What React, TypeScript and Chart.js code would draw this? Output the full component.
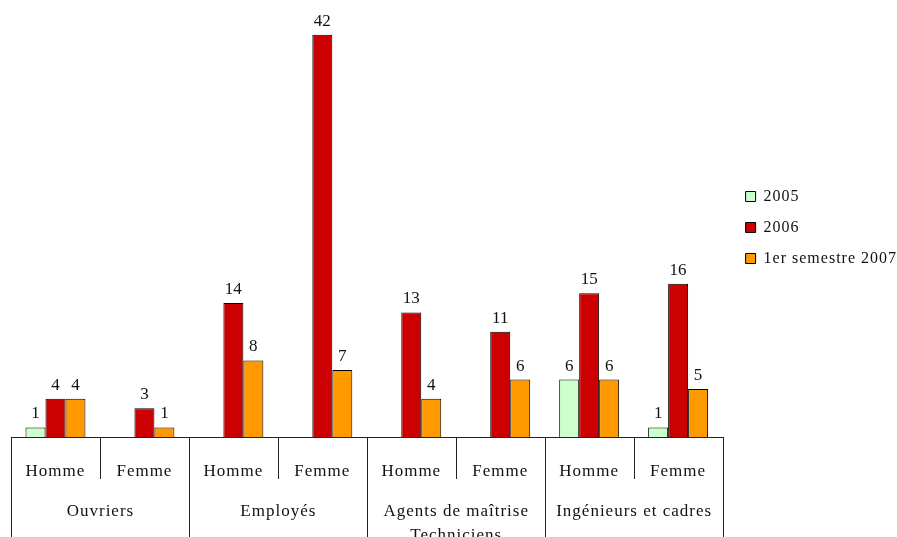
import { useEffect, useRef } from 'react';
import { Chart, registerables } from 'chart.js';

Chart.register(...registerables);

const subLabels = ['Homme', 'Femme', 'Homme', 'Femme', 'Homme', 'Femme', 'Homme', 'Femme'];
const groupLabels: string[][] = [
  ['Ouvriers'],
  ['Employés'],
  ['Agents de maîtrise', 'Techniciens'],
  ['Ingénieurs et cadres'],
];
const seriesNames = ['2005', '2006', '1er semestre 2007'];
const values2005: (number | null)[] = [1, null, null, null, null, null, 6, 1];
const values2006: (number | null)[] = [4, 3, 14, 42, 13, 11, 15, 16];
const values2007: (number | null)[] = [4, 1, 8, 7, 4, 6, 6, 5];
const seriesColors = ['#CCFFCC', '#CC0000', '#FF9900'];

const SERIF = '"Liberation Serif", "Times New Roman", serif';

// Value labels above bars, category separators and the outer group row.
const annotatePlugin = {
  id: 'annotate',
  afterLayout(chart: any) {
    const lg = chart.legend;
    if (!lg) return;
    // nudge the legend column a little away from the plot
    lg.left = chart.chartArea.right + 8;
    lg.right = chart.width;
    lg.top += 6;
    lg.bottom += 6;
  },
  beforeDraw(chart: any) {
    chart.ctx.letterSpacing = '1px';
  },
  afterDatasetsDraw(chart: any) {
    const ctx = chart.ctx;
    ctx.save();
    ctx.letterSpacing = '0px';
    ctx.font = `17px ${SERIF}`;
    ctx.fillStyle = '#111';
    ctx.textAlign = 'center';
    ctx.textBaseline = 'alphabetic';
    chart.data.datasets.forEach((ds: any, di: number) => {
      const meta = chart.getDatasetMeta(di);
      meta.data.forEach((bar: any, i: number) => {
        const v = ds.data[i];
        if (v === null || v === undefined) return;
        ctx.fillText(String(v), bar.x, bar.y - 9);
      });
    });
    ctx.restore();
  },
  afterDraw(chart: any) {
    const ctx = chart.ctx;
    const xs = chart.scales.x;
    const area = chart.chartArea;
    const step = xs.getPixelForValue(1) - xs.getPixelForValue(0);
    ctx.save();
    ctx.strokeStyle = '#222';
    ctx.lineWidth = 1;
    for (let i = 0; i <= subLabels.length; i++) {
      const px = Math.round(xs.getPixelForValue(i) - step / 2) + 0.5;
      const bottom = i % 2 === 0 ? chart.height : area.bottom + 42;
      ctx.beginPath();
      ctx.moveTo(px, area.bottom);
      ctx.lineTo(px, bottom);
      ctx.stroke();
    }
    ctx.letterSpacing = '1px';
    ctx.font = `17px ${SERIF}`;
    ctx.fillStyle = '#111';
    ctx.textAlign = 'center';
    ctx.textBaseline = 'middle';
    groupLabels.forEach((lines, g) => {
      const cx = (xs.getPixelForValue(2 * g) + xs.getPixelForValue(2 * g + 1)) / 2;
      lines.forEach((line, li) => {
        ctx.fillText(line, cx + 0.5, area.bottom + 75 + li * 24);
      });
    });
    ctx.restore();
  },
};

export default function App() {
  const canvasRef = useRef<HTMLCanvasElement | null>(null);

  useEffect(() => {
    const canvas = canvasRef.current;
    if (!canvas) return;
    const series = [values2005, values2006, values2007];
    const chart = new Chart(canvas, {
      type: 'bar',
      data: {
        labels: subLabels,
        datasets: series.map((vals, i) => ({
          label: seriesNames[i],
          data: vals,
          backgroundColor: seriesColors[i],
          borderColor: '#000',
          borderWidth: 1,
          categoryPercentage: 0.674,
          barPercentage: 1,
        })),
      },
      options: {
        animation: false,
        responsive: false,
        devicePixelRatio: 1,
        layout: { padding: { left: 11, top: 6, right: 15, bottom: 0 } },
        plugins: {
          legend: {
            position: 'right',
            fullSize: false,
            labels: {
              boxWidth: 10,
              boxHeight: 10,
              padding: 15,
              color: '#111',
              font: { family: SERIF, size: 16 },
            },
          },
          tooltip: { enabled: false },
        },
        scales: {
          x: {
            grid: { display: false, drawTicks: false },
            border: { display: true, color: '#222', width: 1 },
            ticks: {
              color: '#111',
              font: { family: SERIF, size: 17 },
              padding: 24,
              maxRotation: 0,
              autoSkip: false,
            },
            afterFit: (scale: any) => {
              scale.height = 100;
            },
          },
          y: { display: false, min: 0, max: 45 },
        },
      } as any,
      plugins: [annotatePlugin],
    });
    return () => chart.destroy();
  }, []);

  return (
    <div style={{ position: 'fixed', left: 0, top: 0, width: 897, height: 537, background: '#fff' }}>
      <canvas ref={canvasRef} width={897} height={537} />
    </div>
  );
}
